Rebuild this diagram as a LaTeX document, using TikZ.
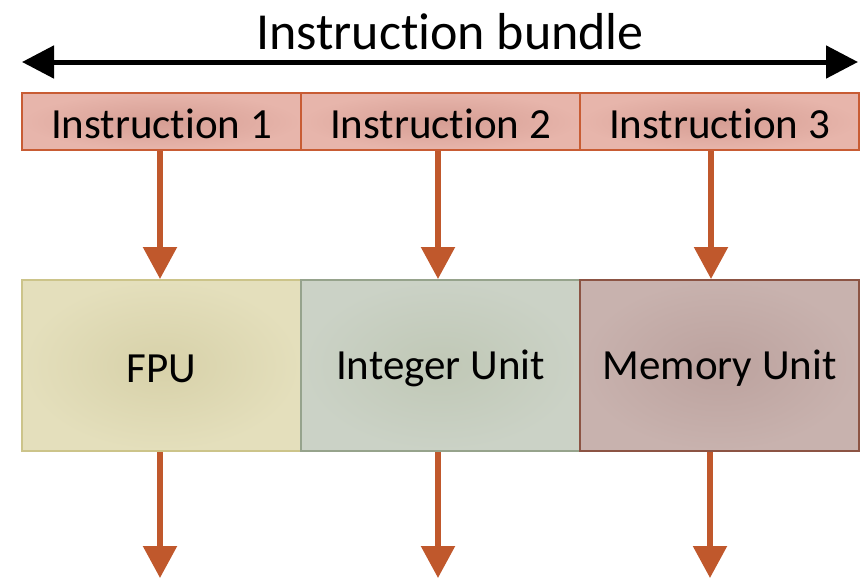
\documentclass[tikz,border=0pt]{standalone}
\usepackage{fontspec}
\setmainfont{Carlito}[RawFeature={-liga;-clig;-calt;-dlig}]
\usetikzlibrary{arrows.meta}

\definecolor{arrowc}{RGB}{192,88,44}
\definecolor{insborder}{RGB}{200,92,52}
\definecolor{insin}{RGB}{214,158,148}
\definecolor{insout}{RGB}{231,181,171}
\definecolor{fpuin}{RGB}{215,209,169}
\definecolor{fpuout}{RGB}{228,223,188}
\definecolor{fpuborder}{RGB}{204,196,138}
\definecolor{intin}{RGB}{192,200,182}
\definecolor{intout}{RGB}{203,210,198}
\definecolor{intborder}{RGB}{150,163,140}
\definecolor{memin}{RGB}{188,162,158}
\definecolor{memout}{RGB}{200,178,174}
\definecolor{memborder}{RGB}{140,84,68}

% lower a label without changing the box it reports
\newcommand{\lowtext}[2]{\raisebox{-#1}[\height][\depth]{#2}}

\tikzset{
  insbox/.style={draw=insborder, line width=2pt, inner color=insin, outer color=insout,
    minimum width=279pt, minimum height=57pt, inner sep=0pt, font=\fontsize{43}{50}\selectfont},
  unitbox/.style={line width=2pt, minimum width=279pt, minimum height=171pt, inner sep=0pt,
    font=\fontsize{43}{50}\selectfont},
  flow/.style={draw=arrowc, line width=5.5pt, -{Triangle[length=32pt,width=33pt]}},
  span/.style={draw=black, line width=5pt, {Triangle[length=32pt,width=32pt]}-{Triangle[length=32pt,width=32pt]}}
}

\begin{document}
\begin{tikzpicture}[x=1pt,y=-1pt]
  \useasboundingbox (0,0) rectangle (863,579);

  % bundle span and its label
  \coordinate (bl) at (22,62);
  \coordinate (br) at (858,62);
  \draw[span] (bl) -- (br);
  \node[font=\fontsize{52}{60}\selectfont] (title) at (450,32) {Instruction bundle};

  % instruction slots
  \node[insbox] (i1) at (161.5,121.5) {\lowtext{2pt}{Instruction 1}};
  \node[insbox] (i2) at (440.5,121.5) {\lowtext{2pt}{Instruction 2}};
  \node[insbox] (i3) at (719.5,121.5) {\lowtext{2pt}{Instruction 3}};

  % execution units
  \node[unitbox, draw=fpuborder, inner color=fpuin, outer color=fpuout] (u1) at (161.5,365.5) {\lowtext{3pt}{FPU}};
  \node[unitbox, draw=intborder, inner color=intin, outer color=intout] (u2) at (440.5,365.5) {\lowtext{3pt}{Integer Unit}};
  \node[unitbox, draw=memborder, inner color=memin, outer color=memout] (u3) at (719.5,365.5) {\lowtext{3pt}{Memory Unit}};

  % dispatch arrows
  \draw[flow] ([xshift=-1.5pt]i1.south) -- ([xshift=-1.5pt]u1.north);
  \draw[flow] ([xshift=-2.5pt]i2.south) -- ([xshift=-2.5pt]u2.north);
  \draw[flow] ([xshift=-8.5pt]i3.south) -- ([xshift=-8.5pt]u3.north);

  % result arrows
  \coordinate (o1) at (160,578);
  \coordinate (o2) at (438,578);
  \coordinate (o3) at (710,578);
  \draw[flow] (u1.south -| o1) -- (o1);
  \draw[flow] (u2.south -| o2) -- (o2);
  \draw[flow] (u3.south -| o3) -- (o3);
\end{tikzpicture}
\end{document}
